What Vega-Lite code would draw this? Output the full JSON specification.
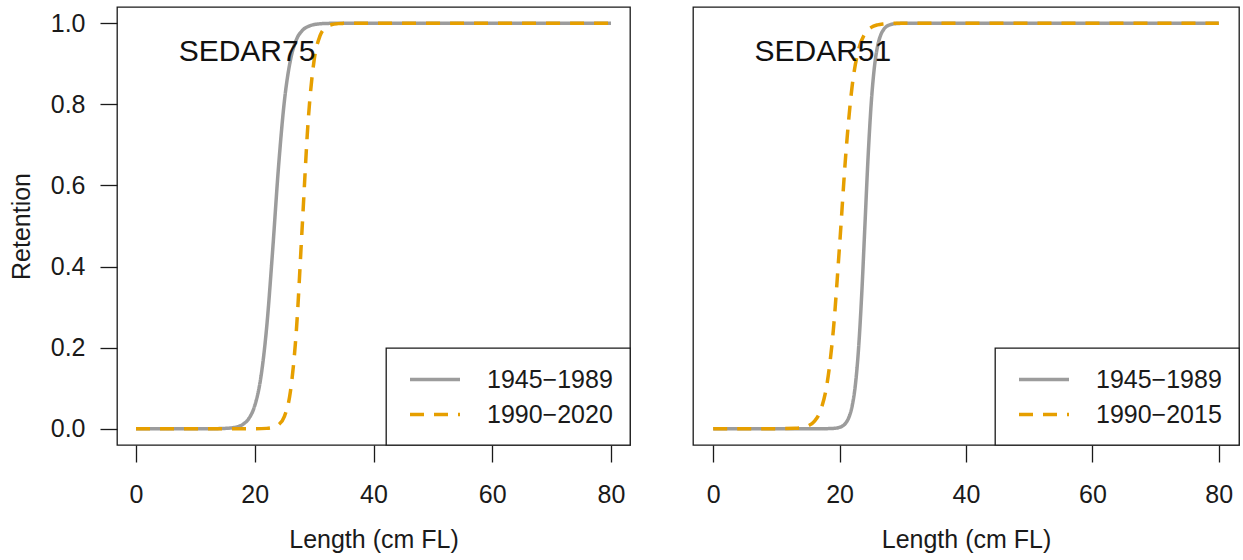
{
  "$schema": "https://vega.github.io/schema/vega-lite/v6.json",
  "background": "white",
  "padding": {"left": 8, "top": 6, "right": 4, "bottom": 0},
  "datasets": {
    "curves": [
      {"panel":"SEDAR75","period":"1945−1989","length":0,"retention":0},
      {"panel":"SEDAR75","period":"1945−1989","length":10,"retention":0},
      {"panel":"SEDAR75","period":"1945−1989","length":14,"retention":0.0004},
      {"panel":"SEDAR75","period":"1945−1989","length":15,"retention":0.0009},
      {"panel":"SEDAR75","period":"1945−1989","length":16,"retention":0.002},
      {"panel":"SEDAR75","period":"1945−1989","length":17,"retention":0.0047},
      {"panel":"SEDAR75","period":"1945−1989","length":18,"retention":0.0109},
      {"panel":"SEDAR75","period":"1945−1989","length":19,"retention":0.0252},
      {"panel":"SEDAR75","period":"1945−1989","length":20,"retention":0.057},
      {"panel":"SEDAR75","period":"1945−1989","length":21,"retention":0.124},
      {"panel":"SEDAR75","period":"1945−1989","length":22,"retention":0.249},
      {"panel":"SEDAR75","period":"1945−1989","length":23,"retention":0.437},
      {"panel":"SEDAR75","period":"1945−1989","length":24,"retention":0.645},
      {"panel":"SEDAR75","period":"1945−1989","length":25,"retention":0.809},
      {"panel":"SEDAR75","period":"1945−1989","length":26,"retention":0.908},
      {"panel":"SEDAR75","period":"1945−1989","length":27,"retention":0.959},
      {"panel":"SEDAR75","period":"1945−1989","length":28,"retention":0.982},
      {"panel":"SEDAR75","period":"1945−1989","length":29,"retention":0.992},
      {"panel":"SEDAR75","period":"1945−1989","length":30,"retention":0.9967},
      {"panel":"SEDAR75","period":"1945−1989","length":31,"retention":0.9986},
      {"panel":"SEDAR75","period":"1945−1989","length":32,"retention":0.9994},
      {"panel":"SEDAR75","period":"1945−1989","length":34,"retention":0.9999},
      {"panel":"SEDAR75","period":"1945−1989","length":40,"retention":1},
      {"panel":"SEDAR75","period":"1945−1989","length":60,"retention":1},
      {"panel":"SEDAR75","period":"1945−1989","length":80,"retention":1},
      {"panel":"SEDAR75","period":"1990−2020","length":0,"retention":0},
      {"panel":"SEDAR75","period":"1990−2020","length":10,"retention":0},
      {"panel":"SEDAR75","period":"1990−2020","length":20,"retention":0.0001},
      {"panel":"SEDAR75","period":"1990−2020","length":22,"retention":0.001},
      {"panel":"SEDAR75","period":"1990−2020","length":23,"retention":0.0032},
      {"panel":"SEDAR75","period":"1990−2020","length":24,"retention":0.01},
      {"panel":"SEDAR75","period":"1990−2020","length":25,"retention":0.0308},
      {"panel":"SEDAR75","period":"1990−2020","length":26,"retention":0.0911},
      {"panel":"SEDAR75","period":"1990−2020","length":27,"retention":0.2405},
      {"panel":"SEDAR75","period":"1990−2020","length":28,"retention":0.5},
      {"panel":"SEDAR75","period":"1990−2020","length":29,"retention":0.7595},
      {"panel":"SEDAR75","period":"1990−2020","length":30,"retention":0.9089},
      {"panel":"SEDAR75","period":"1990−2020","length":31,"retention":0.9692},
      {"panel":"SEDAR75","period":"1990−2020","length":32,"retention":0.99},
      {"panel":"SEDAR75","period":"1990−2020","length":33,"retention":0.9968},
      {"panel":"SEDAR75","period":"1990−2020","length":34,"retention":0.999},
      {"panel":"SEDAR75","period":"1990−2020","length":35,"retention":0.9997},
      {"panel":"SEDAR75","period":"1990−2020","length":36,"retention":1},
      {"panel":"SEDAR75","period":"1990−2020","length":40,"retention":1},
      {"panel":"SEDAR75","period":"1990−2020","length":60,"retention":1},
      {"panel":"SEDAR75","period":"1990−2020","length":80,"retention":1},
      {"panel":"SEDAR51","period":"1945−1989","length":0,"retention":0},
      {"panel":"SEDAR51","period":"1945−1989","length":10,"retention":0},
      {"panel":"SEDAR51","period":"1945−1989","length":17,"retention":0.0001},
      {"panel":"SEDAR51","period":"1945−1989","length":19,"retention":0.0009},
      {"panel":"SEDAR51","period":"1945−1989","length":20,"retention":0.0037},
      {"panel":"SEDAR51","period":"1945−1989","length":21,"retention":0.0148},
      {"panel":"SEDAR51","period":"1945−1989","length":21.5,"retention":0.0293},
      {"panel":"SEDAR51","period":"1945−1989","length":22,"retention":0.0573},
      {"panel":"SEDAR51","period":"1945−1989","length":22.5,"retention":0.109},
      {"panel":"SEDAR51","period":"1945−1989","length":23,"retention":0.198},
      {"panel":"SEDAR51","period":"1945−1989","length":23.5,"retention":0.332},
      {"panel":"SEDAR51","period":"1945−1989","length":24,"retention":0.5},
      {"panel":"SEDAR51","period":"1945−1989","length":24.5,"retention":0.668},
      {"panel":"SEDAR51","period":"1945−1989","length":25,"retention":0.802},
      {"panel":"SEDAR51","period":"1945−1989","length":25.5,"retention":0.891},
      {"panel":"SEDAR51","period":"1945−1989","length":26,"retention":0.9427},
      {"panel":"SEDAR51","period":"1945−1989","length":26.5,"retention":0.9707},
      {"panel":"SEDAR51","period":"1945−1989","length":27,"retention":0.9852},
      {"panel":"SEDAR51","period":"1945−1989","length":28,"retention":0.9963},
      {"panel":"SEDAR51","period":"1945−1989","length":29,"retention":0.9991},
      {"panel":"SEDAR51","period":"1945−1989","length":30,"retention":0.9998},
      {"panel":"SEDAR51","period":"1945−1989","length":32,"retention":1},
      {"panel":"SEDAR51","period":"1945−1989","length":40,"retention":1},
      {"panel":"SEDAR51","period":"1945−1989","length":60,"retention":1},
      {"panel":"SEDAR51","period":"1945−1989","length":80,"retention":1},
      {"panel":"SEDAR51","period":"1990−2015","length":0,"retention":0},
      {"panel":"SEDAR51","period":"1990−2015","length":8,"retention":0},
      {"panel":"SEDAR51","period":"1990−2015","length":13,"retention":0.0011},
      {"panel":"SEDAR51","period":"1990−2015","length":14,"retention":0.0028},
      {"panel":"SEDAR51","period":"1990−2015","length":15,"retention":0.0071},
      {"panel":"SEDAR51","period":"1990−2015","length":16,"retention":0.0182},
      {"panel":"SEDAR51","period":"1990−2015","length":17,"retention":0.0457},
      {"panel":"SEDAR51","period":"1990−2015","length":18,"retention":0.11},
      {"panel":"SEDAR51","period":"1990−2015","length":19,"retention":0.242},
      {"panel":"SEDAR51","period":"1990−2015","length":20,"retention":0.453},
      {"panel":"SEDAR51","period":"1990−2015","length":21,"retention":0.681},
      {"panel":"SEDAR51","period":"1990−2015","length":22,"retention":0.847},
      {"panel":"SEDAR51","period":"1990−2015","length":23,"retention":0.935},
      {"panel":"SEDAR51","period":"1990−2015","length":24,"retention":0.974},
      {"panel":"SEDAR51","period":"1990−2015","length":25,"retention":0.9897},
      {"panel":"SEDAR51","period":"1990−2015","length":26,"retention":0.996},
      {"panel":"SEDAR51","period":"1990−2015","length":27,"retention":0.9984},
      {"panel":"SEDAR51","period":"1990−2015","length":28,"retention":0.9994},
      {"panel":"SEDAR51","period":"1990−2015","length":30,"retention":0.9999},
      {"panel":"SEDAR51","period":"1990−2015","length":40,"retention":1},
      {"panel":"SEDAR51","period":"1990−2015","length":60,"retention":1},
      {"panel":"SEDAR51","period":"1990−2015","length":80,"retention":1}
    ],
    "labels": [
      {"panel":"SEDAR75","label":"SEDAR75","lx":18.7,"ly":0.93},
      {"panel":"SEDAR51","label":"SEDAR51","lx":17.35,"ly":0.93}
    ]
  },
  "hconcat": [
    {
      "width": 513,
      "height": 438,
      "layer": [
        {
          "data": {"name": "curves"},
          "transform": [{"filter": "datum.panel === 'SEDAR75'"}],
          "mark": {"type": "line", "interpolate": "monotone", "strokeWidth": 3.5, "clip": true},
          "encoding": {
            "x": {"field": "length", "type": "quantitative", "scale": {"domain": [-3.2, 83.2], "nice": false, "zero": false},
                  "axis": {"values": [0, 20, 40, 60, 80], "title": "Length (cm FL)", "labelPadding": 20, "titlePadding": 20}},
            "y": {"field": "retention", "type": "quantitative", "scale": {"domain": [-0.04, 1.04], "nice": false, "zero": false},
                  "axis": {"values": [0, 0.2, 0.4, 0.6, 0.8, 1.0], "format": ".1f", "title": "Retention", "labelPadding": 15, "titlePadding": 16}},
            "color": {"field": "period", "type": "nominal", "sort": null,
                      "scale": {"domain": ["1945−1989", "1990−2020"], "range": ["#9c9c9c", "#E69F00"]}},
            "strokeDash": {"field": "period", "type": "nominal", "sort": null,
                           "scale": {"domain": ["1945−1989", "1990−2020"], "range": [[1, 0], [14, 10]]}}
          }
        },
        {
          "data": {"name": "labels"},
          "transform": [{"filter": "datum.panel === 'SEDAR75'"}],
          "mark": {"type": "text", "font": "Liberation Sans", "fontSize": 30, "color": "#111111", "align": "center", "baseline": "middle"},
          "encoding": {
            "x": {"field": "lx", "type": "quantitative"},
            "y": {"field": "ly", "type": "quantitative"},
            "text": {"field": "label"}
          }
        }
      ]
    },
    {
      "width": 546,
      "height": 438,
      "layer": [
        {
          "data": {"name": "curves"},
          "transform": [{"filter": "datum.panel === 'SEDAR51'"}],
          "mark": {"type": "line", "interpolate": "monotone", "strokeWidth": 3.5, "clip": true},
          "encoding": {
            "x": {"field": "length", "type": "quantitative", "scale": {"domain": [-3.2, 83.2], "nice": false, "zero": false},
                  "axis": {"values": [0, 20, 40, 60, 80], "title": "Length (cm FL)", "labelPadding": 20, "titlePadding": 20}},
            "y": {"field": "retention", "type": "quantitative", "scale": {"domain": [-0.04, 1.04], "nice": false, "zero": false},
                  "axis": null},
            "color": {"field": "period", "type": "nominal", "sort": null,
                      "scale": {"domain": ["1945−1989", "1990−2015"], "range": ["#9c9c9c", "#E69F00"]}},
            "strokeDash": {"field": "period", "type": "nominal", "sort": null,
                           "scale": {"domain": ["1945−1989", "1990−2015"], "range": [[1, 0], [14, 10]]}}
          }
        },
        {
          "data": {"name": "labels"},
          "transform": [{"filter": "datum.panel === 'SEDAR51'"}],
          "mark": {"type": "text", "font": "Liberation Sans", "fontSize": 30, "color": "#111111", "align": "center", "baseline": "middle"},
          "encoding": {
            "x": {"field": "lx", "type": "quantitative"},
            "y": {"field": "ly", "type": "quantitative"},
            "text": {"field": "label"}
          }
        }
      ]
    }
  ],
  "spacing": 60,
  "resolve": {
    "scale": {"x": "independent", "y": "independent", "color": "independent", "strokeDash": "independent"},
    "legend": {"color": "independent", "strokeDash": "independent"}
  },
  "config": {
    "view": {"stroke": "#1a1a1a", "strokeWidth": 1.3},
    "axis": {
      "domain": false, "grid": false,
      "tickColor": "#1a1a1a", "tickWidth": 1.3, "tickSize": 17,
      "labelFont": "Liberation Sans", "labelFontSize": 25, "labelColor": "#1a1a1a",
      "titleFont": "Liberation Sans", "titleFontSize": 25, "titleFontWeight": "normal", "titleColor": "#1a1a1a"
    },
    "legend": {
      "orient": "bottom-right", "offset": 0, "padding": 17, "title": null,
      "strokeColor": "#1a1a1a", "strokeWidth": 1.3, "fillColor": "white", "cornerRadius": 0,
      "labelFont": "Liberation Sans", "labelFontSize": 25, "labelColor": "#1a1a1a",
      "symbolType": "M-0.6,0L3.4,0", "symbolSize": 625, "symbolStrokeWidth": 3.5,
      "labelOffset": 55, "rowPadding": 7
    }
  }
}
